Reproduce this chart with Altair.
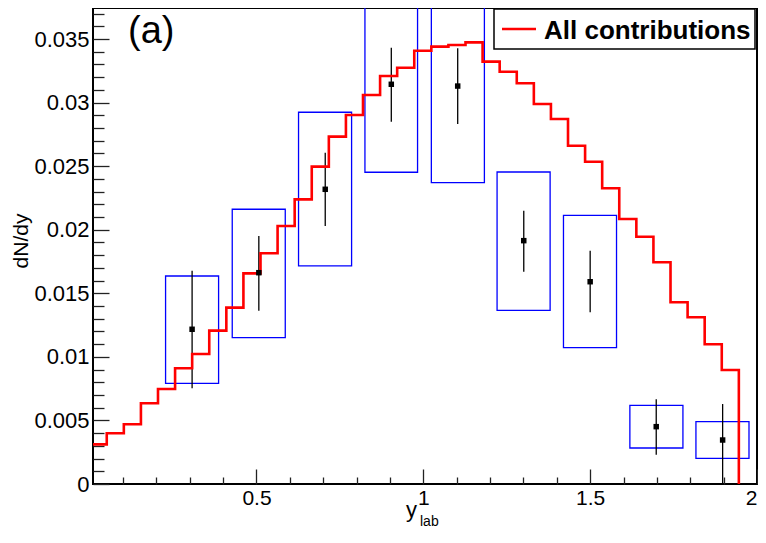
import altair as alt
import pandas as pd

# ---- histogram "All contributions" (bin edges and bin contents) ----
hist_edges = [0.0, 0.0512, 0.1024, 0.1536, 0.2048, 0.2560, 0.3072, 0.3584, 0.4096,
              0.4608, 0.5120, 0.5632, 0.6144, 0.6656, 0.7168, 0.7680, 0.8192, 0.8704,
              0.9216, 0.9728, 1.0240, 1.0752, 1.1264, 1.1776, 1.2288, 1.2800, 1.3312,
              1.3824, 1.4336, 1.4848, 1.5360, 1.5872, 1.6384, 1.6896, 1.7408, 1.7920,
              1.8432, 1.8944, 1.9456]
hist_vals = [0.00312, 0.00399, 0.00470, 0.00635, 0.00747, 0.00910, 0.01022, 0.01206,
             0.01387, 0.01657, 0.01815, 0.02029, 0.02239, 0.02496, 0.02732, 0.02902,
             0.03060, 0.03209, 0.03274, 0.03408, 0.03440, 0.03453, 0.03474, 0.03322,
             0.03243, 0.03152, 0.02989, 0.02871, 0.02661, 0.02535, 0.02326, 0.02084,
             0.01945, 0.01744, 0.01429, 0.01311, 0.01099, 0.00897]

# ---- data points ----
pt_x = [0.307, 0.507, 0.706, 0.904, 1.103, 1.301, 1.500, 1.698, 1.897]
pt_y = [0.01217, 0.01662, 0.02318, 0.03144, 0.03130, 0.01914, 0.01591, 0.00451, 0.00346]
stat_lo = [0.00753, 0.01363, 0.02029, 0.02850, 0.02832, 0.01670, 0.01350, 0.00231, 0.0]
stat_hi = [0.01678, 0.01951, 0.02606, 0.03432, 0.03427, 0.02150, 0.01835, 0.00666, 0.00629]
sys_lo = [0.00792, 0.01151, 0.01715, 0.02452, 0.02370, 0.01366, 0.01072, 0.00283, 0.00202]
sys_hi = [0.01636, 0.02161, 0.02924, 0.0390, 0.0390, 0.02454, 0.02113, 0.00619, 0.00490]
box_lo = [0.2275, 0.4273, 0.626, 0.825, 1.024, 1.221, 1.420, 1.619, 1.817]
box_hi = [0.3864, 0.5862, 0.785, 0.9827, 1.183, 1.380, 1.579, 1.778, 1.976]

# ---- axis ticks / labels ----
x_major = [0.5, 1.0, 1.5, 2.0]
x_minor = [0.1, 0.2, 0.3, 0.4, 0.6, 0.7, 0.8, 0.9, 1.1, 1.2, 1.3, 1.4, 1.6, 1.7, 1.8, 1.9]
y_major = [0.0, 0.005, 0.01, 0.015, 0.02, 0.025, 0.03, 0.035]
y_minor = [0.001, 0.002, 0.003, 0.004, 0.006, 0.007, 0.008, 0.009, 0.011, 0.012, 0.013,
           0.014, 0.016, 0.017, 0.018, 0.019, 0.021, 0.022, 0.023, 0.024, 0.026, 0.027,
           0.028, 0.029, 0.031, 0.032, 0.033, 0.034, 0.036, 0.037]

y_title = "dN/dy"
x_title_main = "y"
x_title_sub = "lab"
panel_label = "(a)"
legend_label = "All contributions"

W, H = 664, 476
X_DOM = [0.01, 2.0]
Y_DOM = [0.0, 0.03744]
FONT = "Liberation Sans"


def xsc():
    return alt.Scale(domain=X_DOM, nice=False, zero=False)


def ysc():
    return alt.Scale(domain=Y_DOM, nice=False, zero=False)


hist_df = pd.DataFrame({"x": hist_edges, "y": hist_vals + [0.0]})
pts_df = pd.DataFrame({"x": pt_x, "y": pt_y, "slo": stat_lo, "shi": stat_hi,
                       "ylo": sys_lo, "yhi": sys_hi, "bx0": box_lo, "bx1": box_hi})

label_x_axis = alt.Axis(values=x_major, format="~g", ticks=False, domain=False, grid=False,
                        labelFontSize=21, labelFont=FONT, labelColor="black", labelPadding=3,
                        labelFlush=True, labelOverlap=False, title=None)
label_y_axis = alt.Axis(values=y_major, format="~g", ticks=False, domain=False, grid=False,
                        labelFontSize=22, labelFont=FONT, labelColor="black", labelPadding=4,
                        labelFlush=False, labelOverlap=False, title=None)


def tick_axis(orient, offset, values, size):
    return alt.Axis(orient=orient, offset=offset, values=values, tickSize=size,
                    tickWidth=1.3, tickColor="#222222", labels=False, domain=False,
                    grid=False, title=None)


boxes = alt.Chart(pts_df).mark_rect(fillOpacity=0, stroke="#0000ff", strokeWidth=1.3,
                                    clip=True).encode(
    x=alt.X("bx0:Q", scale=xsc(), axis=tick_axis("top", -H, x_major, 15)),
    x2="bx1:Q",
    y=alt.Y("ylo:Q", scale=ysc(), axis=tick_axis("right", -W, y_major, 16)),
    y2="yhi:Q",
)

errs = alt.Chart(pts_df).mark_rule(color="black", strokeWidth=1.3, clip=True).encode(
    x=alt.X("x:Q", scale=xsc(), axis=tick_axis("top", -H, x_minor, 7)),
    y=alt.Y("slo:Q", scale=ysc(), axis=tick_axis("right", -W, y_minor, 11)),
    y2="shi:Q",
)

hist = alt.Chart(hist_df).mark_line(interpolate="step-after", color="#ff0000",
                                     strokeWidth=2.6, clip=True, strokeJoin="miter").encode(
    x=alt.X("x:Q", scale=xsc(), axis=label_x_axis),
    y=alt.Y("y:Q", scale=ysc(), axis=label_y_axis),
)

pts = alt.Chart(pts_df).mark_square(size=30, color="black", opacity=1).encode(
    x=alt.X("x:Q", scale=xsc(), axis=None),
    y=alt.Y("y:Q", scale=ysc(), axis=None),
)

one = pd.DataFrame({"k": [0]})
leg_box = alt.Chart(one).mark_rect(fill="white", stroke="black", strokeWidth=1.5).encode(
    x=alt.value(401), x2=alt.value(662), y=alt.value(1), y2=alt.value(41)
)
leg_line = alt.Chart(one).mark_rule(color="#ff0000", strokeWidth=2.6).encode(
    x=alt.value(409), x2=alt.value(443), y=alt.value(21)
)
leg_text = alt.Chart(pd.DataFrame({"t": [legend_label]})).mark_text(
    font=FONT, fontSize=26, fontWeight="bold", align="left", baseline="alphabetic",
    color="black").encode(text="t:N", x=alt.value(451), y=alt.value(31))

panel = alt.Chart(pd.DataFrame({"t": [panel_label]})).mark_text(
    font=FONT, fontSize=38, align="left", baseline="alphabetic", color="black").encode(
    text="t:N", x=alt.value(35), y=alt.value(35))

ytitle = alt.Chart(pd.DataFrame({"t": [y_title]})).mark_text(
    font=FONT, fontSize=21, align="center", baseline="middle", angle=270,
    color="black").encode(text="t:N", x=alt.value(-71), y=alt.value(233))

xtitle = alt.Chart(pd.DataFrame({"t": [x_title_main]})).mark_text(
    font=FONT, fontSize=22, align="left", baseline="alphabetic", color="black").encode(
    text="t:N", x=alt.value(313), y=alt.value(509))

xsub = alt.Chart(pd.DataFrame({"t": [x_title_sub]})).mark_text(
    font=FONT, fontSize=14, align="left", baseline="alphabetic", color="black").encode(
    text="t:N", x=alt.value(327), y=alt.value(518))

chart = alt.layer(
    boxes, errs, hist, pts, leg_box, leg_line, leg_text, panel, ytitle, xtitle, xsub
).resolve_scale(
    x="independent", y="independent"
).properties(
    width=W, height=H,
    autosize=alt.AutoSizeParams(type="none"),
    padding={"left": 85, "top": 0, "right": 1, "bottom": 47},
    background="white",
).configure_view(
    stroke="black", strokeWidth=2
)

chart.save("out.html", embed_options={"renderer": "svg", "actions": False})
